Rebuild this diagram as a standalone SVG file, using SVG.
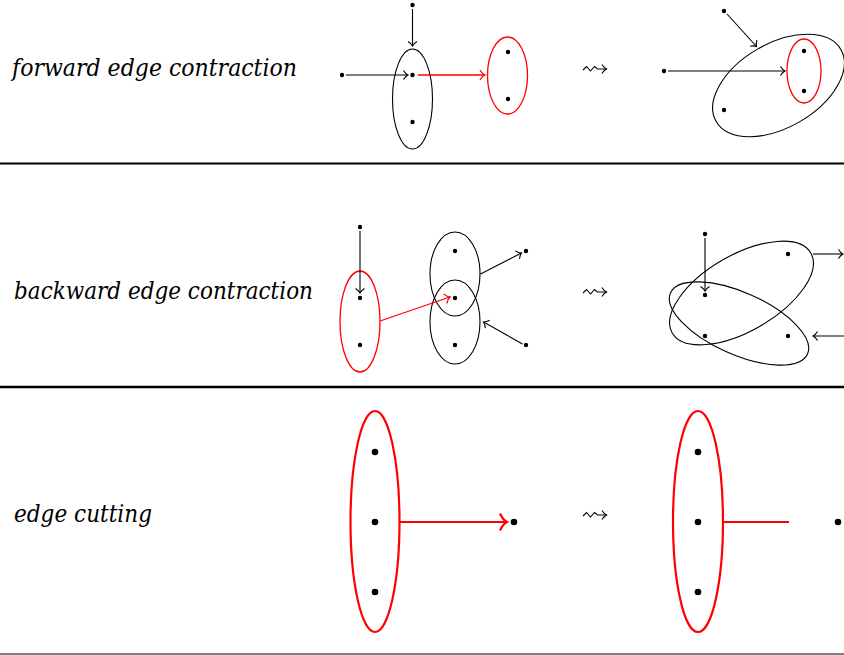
<svg xmlns="http://www.w3.org/2000/svg" width="844" height="655" viewBox="0 0 844 655">
<style>
.lbl{font-family:'DejaVu Serif','Liberation Serif',serif;font-style:italic;font-size:24px;fill:#000}
.k{stroke:#000;stroke-width:1.1;fill:none}
.r{stroke:#ff0000;stroke-width:1.3;fill:none}
.rt{stroke:#ff0000;stroke-width:2.2;fill:none}
.d{fill:#000}
.sep{stroke:#000}
</style>
<defs>
<marker id="ak" viewBox="-8 -6 10 12" markerWidth="10" markerHeight="12" refX="0" refY="0" orient="auto" markerUnits="userSpaceOnUse" overflow="visible">
<path d="M-4.5,-4.5 C-3,-2 -1,-0.5 0,0 C-1,0.5 -3,2 -4.5,4.5" stroke="#000" stroke-width="1.1" fill="none"/>
</marker>
<marker id="ar" viewBox="-8 -6 10 12" markerWidth="10" markerHeight="12" refX="0" refY="0" orient="auto" markerUnits="userSpaceOnUse" overflow="visible">
<path d="M-5,-5 C-3.5,-2.2 -1.2,-0.5 0,0 C-1.2,0.5 -3.5,2.2 -5,5" stroke="#ff0000" stroke-width="1.3" fill="none"/>
</marker>
<marker id="art" viewBox="-12 -10 14 20" markerWidth="14" markerHeight="20" refX="0" refY="0" orient="auto" markerUnits="userSpaceOnUse" overflow="visible">
<path d="M-7,-8.5 C-5,-4 -2,-1 0,0 C-2,1 -5,4 -7,8.5" stroke="#ff0000" stroke-width="2.2" fill="none"/>
</marker>
</defs>
<rect width="844" height="655" fill="#fff"/>

<g id="separators">
<line class="sep" x1="0" y1="163.5" x2="844" y2="163.5" stroke-width="2"/>
<line class="sep" x1="0" y1="387" x2="844" y2="387" stroke-width="2.6"/>
<line class="sep" x1="0" y1="654" x2="844" y2="654" stroke-width="1.2"/>
</g>

<g id="labels">
<text class="lbl" x="12" y="76" textLength="285" lengthAdjust="spacingAndGlyphs">forward edge contraction</text>
<text class="lbl" x="14" y="299" textLength="299" lengthAdjust="spacingAndGlyphs">backward edge contraction</text>
<text class="lbl" x="14" y="522" textLength="138" lengthAdjust="spacingAndGlyphs">edge cutting</text>
</g>

<!-- Row 1 left -->
<g id="r1-set-black"><ellipse class="k" cx="412.5" cy="99" rx="20" ry="50"/></g>
<g id="r1-set-red"><ellipse class="r" cx="507.5" cy="75.5" rx="20" ry="38.5"/></g>
<g id="r1-nodes">
<circle class="d" cx="342" cy="75" r="2.2"/>
<circle class="d" cx="412.5" cy="5" r="2.2"/>
<circle class="d" cx="412.5" cy="75" r="2.2"/>
<circle class="d" cx="412.5" cy="122" r="2.2"/>
<circle class="d" cx="508" cy="52" r="2.2"/>
<circle class="d" cx="508" cy="99" r="2.2"/>
</g>
<!-- Row 1 right -->
<g id="r1b-set-black"><ellipse class="k" cx="778.5" cy="85.5" rx="72" ry="42" transform="rotate(-30 778.5 85.5)"/></g>
<g id="r1b-set-red"><ellipse class="r" cx="804" cy="71" rx="17" ry="32"/></g>
<g id="r1b-nodes">
<circle class="d" cx="664" cy="71" r="2.2"/>
<circle class="d" cx="724" cy="11" r="2.2"/>
<circle class="d" cx="724" cy="110" r="2.2"/>
<circle class="d" cx="804" cy="51" r="2.2"/>
<circle class="d" cx="804" cy="91" r="2.2"/>
</g>

<!-- Row 2 left -->
<g id="r2-set-red"><ellipse class="r" cx="360" cy="321.5" rx="20" ry="50.5"/></g>
<g id="r2-set-upper"><ellipse class="k" cx="455" cy="274" rx="25" ry="42"/></g>
<g id="r2-set-lower"><ellipse class="k" cx="455" cy="322" rx="25" ry="42"/></g>
<g id="r2-nodes">
<circle class="d" cx="360" cy="227" r="2.2"/>
<circle class="d" cx="360" cy="298" r="2.2"/>
<circle class="d" cx="360" cy="345" r="2.2"/>
<circle class="d" cx="455" cy="251" r="2.2"/>
<circle class="d" cx="455" cy="298" r="2.2"/>
<circle class="d" cx="455" cy="345" r="2.2"/>
<circle class="d" cx="526" cy="251" r="2.2"/>
<circle class="d" cx="526" cy="345" r="2.2"/>
</g>
<!-- Row 2 right -->
<g id="r2b-set-a"><ellipse class="k" cx="741.5" cy="293" rx="80" ry="38" transform="rotate(-30 741.5 293)"/></g>
<g id="r2b-set-b"><ellipse class="k" cx="739" cy="323.5" rx="75" ry="31" transform="rotate(24 739 323.5)"/></g>
<g id="r2b-nodes">
<circle class="d" cx="705" cy="234" r="2.2"/>
<circle class="d" cx="788" cy="254" r="2.2"/>
<circle class="d" cx="705" cy="295" r="2.2"/>
<circle class="d" cx="705" cy="336" r="2.2"/>
<circle class="d" cx="788" cy="336" r="2.2"/>
</g>

<!-- Row 3 -->
<g id="r3-set-red"><ellipse class="rt" cx="375" cy="521.5" rx="24.5" ry="110.5"/></g>
<g id="r3-nodes">
<circle class="d" cx="375" cy="452" r="3.3"/>
<circle class="d" cx="375" cy="522" r="3.3"/>
<circle class="d" cx="375" cy="592" r="3.3"/>
<circle class="d" cx="514" cy="522" r="3.3"/>
</g>
<g id="r3b-set-red"><ellipse class="rt" cx="698" cy="521.5" rx="25" ry="110.5"/></g>
<g id="r3b-nodes">
<circle class="d" cx="698" cy="452" r="3.3"/>
<circle class="d" cx="698" cy="522" r="3.3"/>
<circle class="d" cx="698" cy="592" r="3.3"/>
<circle class="d" cx="838" cy="522" r="3.3"/>
</g>

<g id="connectors">
<!-- row 1 left -->
<path class="k" d="M346,75 H408" marker-end="url(#ak)"/>
<path class="k" d="M412.5,9 V46" marker-end="url(#ak)"/>
<path class="r" d="M418,75 H485" marker-end="url(#ar)"/>
<!-- row 1 right -->
<path class="k" d="M668,71 H785" marker-end="url(#ak)"/>
<path class="k" d="M727,14 L756.5,46.5" marker-end="url(#ak)"/>
<!-- row 2 left -->
<path class="k" d="M360,231 V293" marker-end="url(#ak)"/>
<path class="r" d="M380,321 L450,297" marker-end="url(#ar)"/>
<path class="k" d="M480.5,274 L521.5,253" marker-end="url(#ak)"/>
<path class="k" d="M522.5,344 L483.5,322" marker-end="url(#ak)"/>
<!-- row 2 right -->
<path class="k" d="M705,238 V291" marker-end="url(#ak)"/>
<path class="k" d="M813,254 H843" marker-end="url(#ak)"/>
<path class="k" d="M846,336 H813" marker-end="url(#ak)"/>
<!-- row 3 -->
<path class="rt" d="M400,522 H507" marker-end="url(#art)"/>
<path class="rt" d="M722.5,522 H789"/>
<!-- leadsto symbols -->
<path class="k" d="M583,70 L586.5,66.5 L590.5,71 L594.5,66.5 L597.5,69 H606.5" marker-end="url(#ak)"/>
<path class="k" d="M583,293 L586.5,289.5 L590.5,294 L594.5,289.5 L597.5,292 H606.5" marker-end="url(#ak)"/>
<path class="k" d="M583,516 L586.5,512.5 L590.5,517 L594.5,512.5 L597.5,515 H606.5" marker-end="url(#ak)"/>
</g>
</svg>
